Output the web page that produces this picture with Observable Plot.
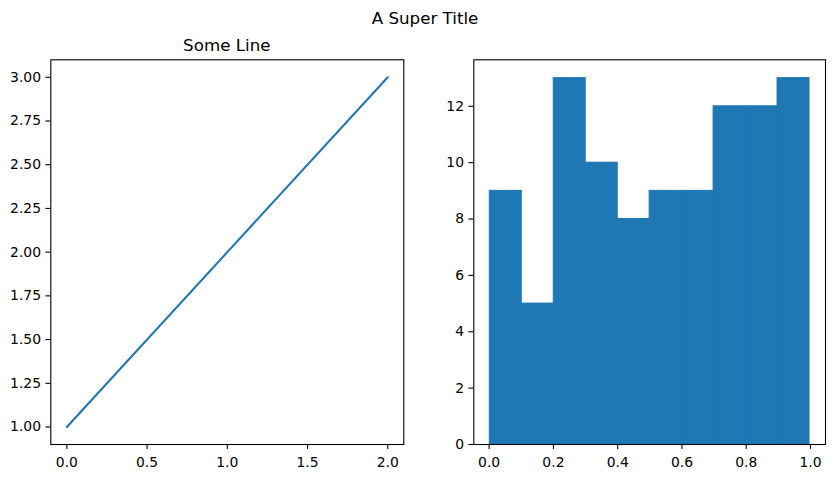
<!DOCTYPE html>
<html>
<head>
<meta charset="utf-8">
<script src="https://cdn.jsdelivr.net/npm/d3@7"></script>
<script src="https://cdn.jsdelivr.net/npm/@observablehq/plot@0.6"></script>
<style>
  html, body { margin: 0; padding: 0; background: #fff; }
  #wrap { position: relative; width: 835px; height: 478px; font-family: "DejaVu Sans", sans-serif; background: #fff; }
  .p { position: absolute; top: 0; z-index: 1; }
  #titles { position: absolute; left: 0; top: 0; z-index: 2; pointer-events: none; }
</style>
</head>
<body>
<div id="wrap">
  <div class="p" id="left" style="left:0px;"></div>
  <div class="p" id="right" style="left:420px;"></div>
  <svg id="titles" width="835" height="478" font-family="DejaVu Sans, sans-serif">
    <text x="425" y="24" font-size="16.7" text-anchor="middle" fill="#000">A Super Title</text>
    <text x="226.8" y="50.7" font-size="16.7" text-anchor="middle" fill="#000">Some Line</text>
  </svg>
</div>
<script>
// Left panel: line data
const lineX = [0, 1, 2];
const lineY = [1, 2, 3];
const leftXTicks = [0, 0.5, 1.0, 1.5, 2.0];
const leftYTicks = [1.00, 1.25, 1.50, 1.75, 2.00, 2.25, 2.50, 2.75, 3.00];

// Right panel: histogram data
const binStart = [0.002, 0.1015, 0.201, 0.3005, 0.400, 0.4995, 0.599, 0.6985, 0.798, 0.8975];
const binEnd   = [0.1015, 0.201, 0.3005, 0.400, 0.4995, 0.599, 0.6985, 0.798, 0.8975, 0.997];
const counts   = [9, 5, 13, 10, 8, 9, 9, 12, 12, 13];
const rightXTicks = [0, 0.2, 0.4, 0.6, 0.8, 1.0];
const rightYTicks = [0, 2, 4, 6, 8, 10, 12];

const blue = "#1f77b4";
const fontStyle = {fontFamily: "DejaVu Sans, sans-serif", fontSize: "13.9px", color: "#000", background: "transparent", overflow: "visible"};
const axisBase = {tickSize: 4.9, stroke: "#000", fill: "#000", fontSize: 13.9, label: null, strokeWidth: 1.1};

const lineData = lineX.map((x, i) => ({x, y: lineY[i]}));
const histData = counts.map((c, i) => ({x1: binStart[i], x2: binEnd[i], y: c}));

const left = Plot.plot({
  width: 420, height: 478,
  marginLeft: 50.3, marginRight: 16.7, marginTop: 59.3, marginBottom: 34,
  style: fontStyle,
  x: {domain: [-0.1, 2.1], label: null},
  y: {domain: [0.9, 3.1], label: null},
  marks: [
    Plot.line(lineData, {x: "x", y: "y", stroke: blue, strokeWidth: 2.08}),
    Plot.frame({stroke: "#000", strokeWidth: 1.1}),
    Plot.axisX({...axisBase, tickPadding: 7.5, ticks: leftXTicks, tickFormat: d => d.toFixed(1)}),
    Plot.axisY({...axisBase, tickPadding: 4.9, ticks: leftYTicks, tickFormat: d => d.toFixed(2)})
  ]
});
document.getElementById("left").appendChild(left);

const right = Plot.plot({
  width: 415, height: 478,
  marginLeft: 53.3, marginRight: 10, marginTop: 59.3, marginBottom: 34,
  style: fontStyle,
  x: {domain: [-0.0478, 1.0468], label: null},
  y: {domain: [0, 13.65], label: null},
  marks: [
    Plot.rectY(histData, {x1: "x1", x2: "x2", y: "y", fill: blue, stroke: blue, strokeWidth: 1, insetLeft: 0, insetRight: 0}),
    Plot.frame({stroke: "#000", strokeWidth: 1.1}),
    Plot.axisX({...axisBase, tickPadding: 7.5, ticks: rightXTicks, tickFormat: d => d.toFixed(1)}),
    Plot.axisY({...axisBase, tickPadding: 4.9, ticks: rightYTicks, tickFormat: d => String(d)})
  ]
});
document.getElementById("right").appendChild(right);
</script>
</body>
</html>
